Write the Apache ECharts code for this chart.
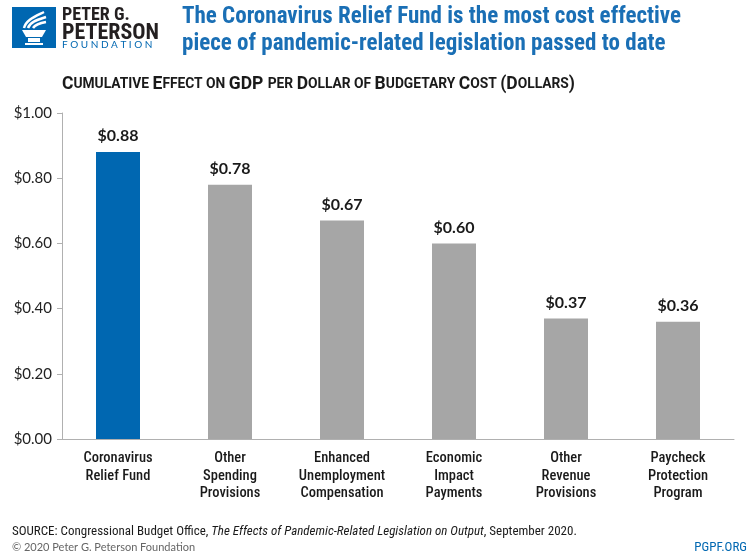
<!DOCTYPE html>
<html><head><meta charset="utf-8">
<script src="https://cdn.jsdelivr.net/npm/echarts@6/dist/echarts.min.js"></script>
<style>html,body{margin:0;padding:0;background:#fff}#c{width:755px;height:557px}</style>
</head><body><div id="c"></div>
<script>
const categories = ['Coronavirus\nRelief Fund','Other\nSpending\nProvisions','Enhanced\nUnemployment\nCompensation','Economic\nImpact\nPayments','Other\nRevenue\nProvisions','Paycheck\nProtection\nProgram'];
const values = [0.88, 0.78, 0.67, 0.60, 0.37, 0.36];
const highlight = [true, false, false, false, false, false];
const yTicks = [0, 0.2, 0.4, 0.6, 0.8, 1.0];

const BLUE = '#0067b1';
const GRAY = '#a6a6a6';
const SANS = '"Lato","Noto Sans",sans-serif';
const cond = (w, size, st) => w + ' ' + (st || 'condensed') + ' ' + size + 'px Roboto, "DejaVu Sans Condensed", sans-serif';

function smallCaps(str){
  let out = '';
  let cur = null, buf = '';
  for (const ch of str){
    const isUpper = ch === ch.toUpperCase() && ch !== ch.toLowerCase();
    const isSpace = ch === ' ';
    let t = isUpper || '()'.includes(ch) ? 'b' : 's';
    if (isSpace) t = cur || 'b';
    if (t !== cur){ if (buf) out += '{' + cur + '|' + buf + '}'; buf = ''; cur = t; }
    buf += ch.toUpperCase();
  }
  if (buf) out += '{' + cur + '|' + buf + '}';
  return out;
}

function flame(x1,y1,cx1,cy1,cx2,cy2,x2,y2){
  return {type: 'bezierCurve', shape: {x1, y1, cpx1: cx1, cpy1: cy1, cpx2: cx2, cpy2: cy2, x2, y2}, style: {stroke: '#fff', lineWidth: 2.5, fill: null}};
}

const chart = echarts.init(document.getElementById('c'));
chart.setOption({
  animation: false,
  backgroundColor: '#fff',
  grid: {left: 62, right: 21, top: 113, bottom: 118},
  xAxis: {
    type: 'category', data: categories,
    axisLine: {lineStyle: {color: '#b0b0b0', width: 1}},
    axisTick: {show: false},
    axisLabel: {color: '#1a1a1a', fontFamily: 'Roboto, "DejaVu Sans Condensed", sans-serif', fontWeight: '500 condensed', fontSize: 14.5, lineHeight: 17.5, margin: 11, interval: 0}
  },
  yAxis: {
    type: 'value', min: 0, max: 1, interval: 0.2,
    splitLine: {show: false},
    axisLine: {show: true, lineStyle: {color: '#b0b0b0'}},
    axisTick: {show: true, inside: false, length: 5, lineStyle: {color: '#b0b0b0'}},
    axisLabel: {color: '#222', fontFamily: SANS, fontSize: 15, margin: 10,
      formatter: v => '$' + v.toFixed(2)}
  },
  series: [{
    type: 'bar', barWidth: 44,
    data: values.map((v,i)=>({value: v, itemStyle: {color: highlight[i] ? BLUE : GRAY}})),
    label: {show: true, position: 'top', distance: 8, color: '#1a1a1a', fontFamily: SANS, fontWeight: 'bold', fontSize: 16,
      formatter: p => '$' + p.value.toFixed(2)}
  }],
  graphic: [
    {type: 'rect', shape: {x: 12, y: 7, width: 44, height: 41}, style: {fill: BLUE}},
    {type: 'polygon', shape: {points: [[22,30],[46,30],[42,37],[26,37]]}, style: {fill: '#fff'}},
    {type: 'rect', shape: {x: 28, y: 38, width: 12, height: 4}, style: {fill: '#fff'}},
    {type: 'rect', shape: {x: 25, y: 43, width: 18, height: 2}, style: {fill: '#fff'}},
    flame(24,28, 26,20, 34,17, 44,12),
    flame(28,28, 30,22, 37,20, 46,17),
    flame(33,28, 35,25, 40,23, 46,22),
    {type: 'text', left: 62, top: 6, style: {text: 'PETER G.', fill: '#231f20', font: cond('bold', 18)}},
    {type: 'text', left: 62, top: 22, style: {text: 'PETERSON', fill: '#231f20', font: cond('bold', 22)}},
    {type: 'text', left: 62, top: 40, style: {text: 'F O U N D A T I O N', fill: BLUE, font: '10px ' + SANS}},
    {type: 'text', left: 182, top: 4, style: {text: 'The Coronavirus Relief Fund is the most cost effective\npiece of pandemic-related legislation passed to date', fill: '#1a6fb5', font: cond('bold', 23), lineHeight: 27}},
    {type: 'text', left: 62, top: 76, style: {text: smallCaps('Cumulative Effect on GDP per Dollar of Budgetary Cost (Dollars)'),
      rich: {b: {font: cond('bold', 17.5, 'normal'), fill: '#1a1a1a'}, s: {font: cond('bold', 13.8, 'normal'), fill: '#1a1a1a'}}}},
    {type: 'text', left: 12, top: 525, style: {text: '{n|SOURCE: Congressional Budget Office, }{i|The Effects of Pandemic-Related Legislation on Output}{n|, September 2020.}',
      rich: {n: {font: cond('normal', 13), fill: '#1a1a1a'}, i: {font: 'italic condensed 13px Roboto, sans-serif', fill: '#1a1a1a'}}}},
    {type: 'text', left: 12, top: 542, style: {text: '© 2020 Peter G. Peterson Foundation', fill: '#666', font: '11px ' + SANS}},
    {type: 'text', right: 8, top: 541, style: {text: 'PGPF.ORG', fill: BLUE, font: cond('normal', 13)}}
  ]
});
</script></body></html>
